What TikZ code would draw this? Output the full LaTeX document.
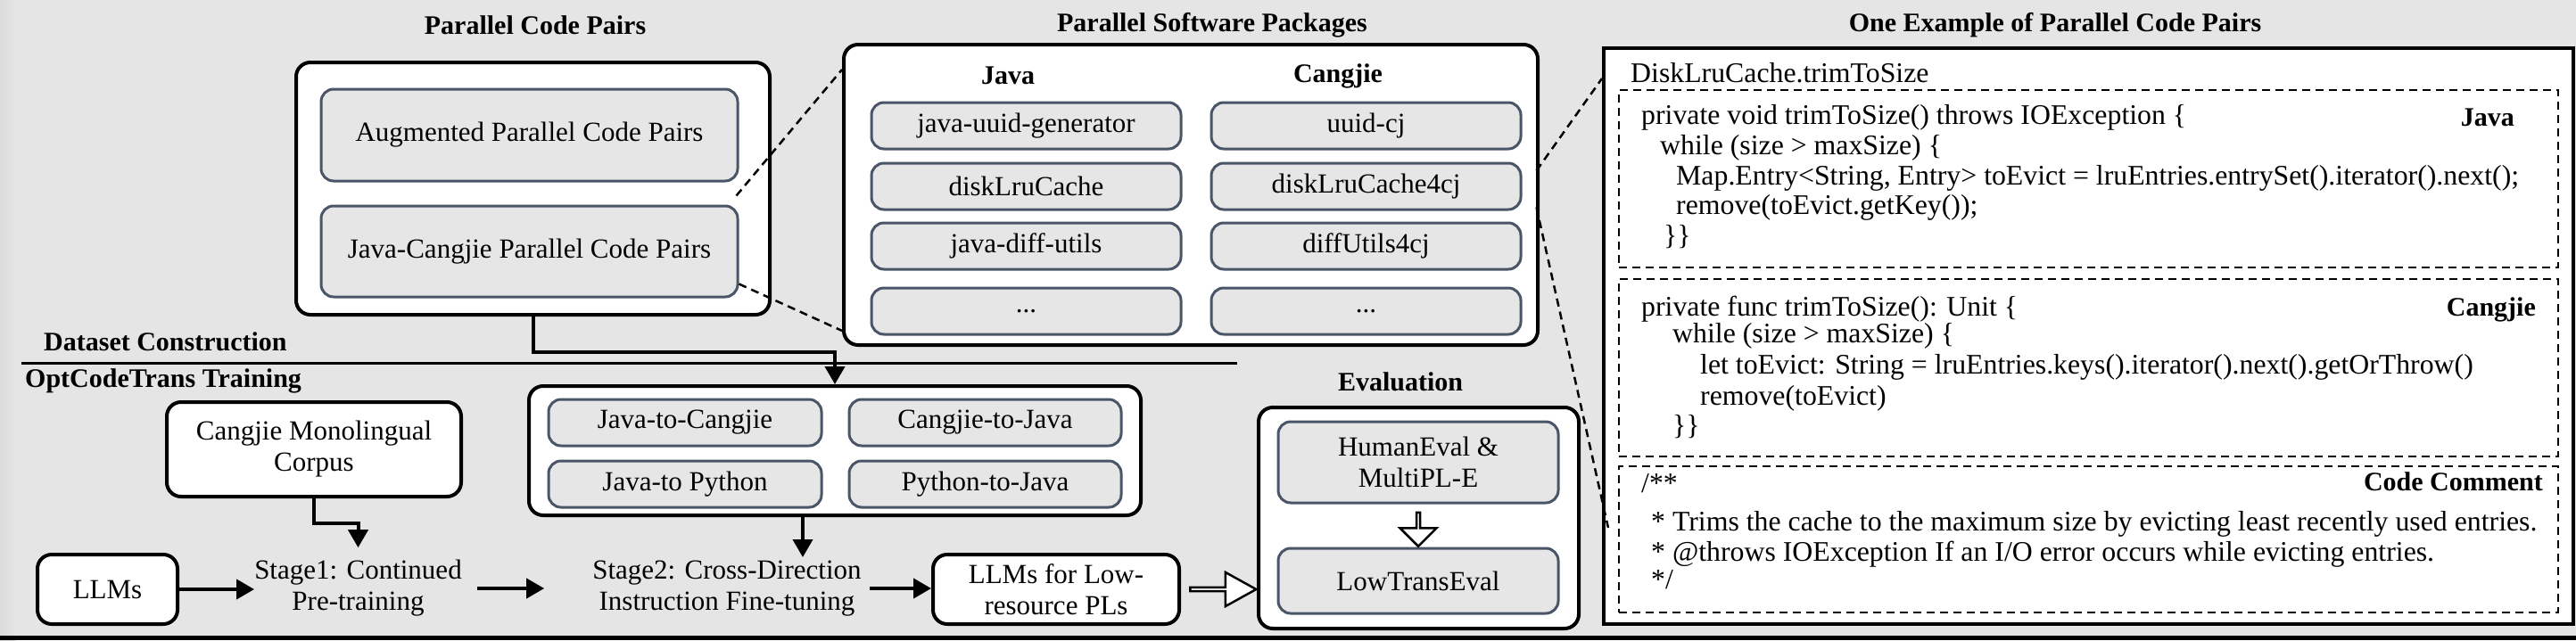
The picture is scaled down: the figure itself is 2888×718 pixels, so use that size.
\documentclass[tikz,border=0pt]{standalone}
\usepackage{fontspec}
\setmainfont{Liberation Serif}
\usepackage{tikz}
\usetikzlibrary{arrows.meta, positioning, shapes.arrows}
\definecolor{canvas}{HTML}{E5E5E5}
\definecolor{slate}{HTML}{4A5568}
\definecolor{cellgray}{HTML}{E6E6E6}
\newcommand{\pcboxfont}{\fontsize{31}{35}\selectfont}
\newcommand{\pcheadfont}{\fontsize{30}{34}\selectfont\bfseries}
\newcommand{\pccodefont}{\fontsize{31.8}{34}\selectfont}

\begin{document}
\begin{tikzpicture}[
    x=1pt, y=-1pt,
    panel/.style={draw=black, line width=4pt, rounded corners=16pt, fill=white, inner sep=0pt},
    itembox/.style={draw=slate, line width=3pt, rounded corners=14pt, fill=cellgray, font=\pcboxfont, align=center, inner sep=0pt},
    plainbox/.style={draw=black, line width=4pt, rounded corners=16pt, fill=white, font=\pcboxfont, align=center, inner sep=0pt},
    headtext/.style={font=\pcheadfont, inner sep=0pt},
    stagetext/.style={font=\pcboxfont, align=center, inner xsep=0pt, inner ysep=14pt},
    flowarrow/.style={-{Triangle[length=20pt, width=22pt]}, line width=4pt},
    zoomline/.style={line width=2.5pt, dash pattern=on 9pt off 6pt},
    codebox/.style={draw=black, line width=2.5pt, dash pattern=on 9pt off 6pt, inner sep=0pt},
    codeline/.style={font=\pccodefont, anchor=west, inner sep=0pt, text height=21pt, text depth=6pt},
    blockarrow/.style={single arrow, draw=black, line width=2.5pt, fill=white, inner sep=0pt},
  ]
  \useasboundingbox (0,0) rectangle (2888,718);
  \fill[canvas] (0,0) rectangle (2888,718);
  \shade[left color=black!14, right color=canvas] (0,0) rectangle (18,718);
  \draw[line width=5pt] (0,715.5) -- (2888,715.5);

  \node[headtext] (pcptitle) at (600,28) {Parallel Code Pairs};
  \node[headtext] (psptitle) at (1359,28) {Parallel Software Packages};
  \node[headtext] (extitle) at (2304,28) {One Example of Parallel Code Pairs};

  \node[panel, minimum width=531pt, minimum height=283pt] (pcp) at (597.5,211.5) {};
  \node[itembox, minimum width=467pt, minimum height=103pt] (aug) at (593.5,151.5) {Augmented Parallel Code Pairs};
  \node[itembox, minimum width=467pt, minimum height=102pt, below=25pt of aug] (jcp) {Java-Cangjie Parallel Code Pairs};

  \node[panel, minimum width=778pt, minimum height=337pt] (psp) at (1335,218.5) {};
  \node[headtext] (javahead) at (1130,85) {Java};
  \node[headtext] (cjhead) at (1500,85) {Cangjie};
  \node[itembox, minimum width=347pt, minimum height=52pt] (jv1) at (1150.5,141) {java-uuid-generator};
  \node[itembox, minimum width=347pt, minimum height=52pt, below=13pt of jv1] (jv2) {diskLruCache};
  \node[itembox, minimum width=347pt, minimum height=52pt, below=12pt of jv2] (jv3) {java-diff-utils};
  \node[itembox, minimum width=347pt, minimum height=52pt, below=18pt of jv3] (jv4) {...};
  \node[itembox, minimum width=347pt, minimum height=52pt, right=31pt of jv1] (cj1) {uuid-cj};
  \node[itembox, minimum width=347pt, minimum height=52pt, right=31pt of jv2] (cj2) {diskLruCache4cj};
  \node[itembox, minimum width=347pt, minimum height=52pt, right=31pt of jv3] (cj3) {diffUtils4cj};
  \node[itembox, minimum width=347pt, minimum height=52pt, right=31pt of jv4] (cj4) {...};

  \node[draw=black, line width=4pt, fill=white, minimum width=1087pt, minimum height=646pt, inner sep=0pt] (ex) at (2341.5,377) {};
  \node[codeline] (exname) at (1828,85) {DiskLruCache.trimToSize};
  \node[codebox, minimum width=1053pt, minimum height=199pt] (javabox) at (2341.5,200.5) {};
  \node[codebox, minimum width=1053pt, minimum height=199pt] (cjbox) at (2341.5,412.5) {};
  \node[codebox, minimum width=1053pt, minimum height=164pt] (cmtbox) at (2341.5,605) {};
  \node[headtext, anchor=east] (javatag) at (2819,132) {Java};
  \node[headtext, anchor=east] (cjtag) at (2843,347) {Cangjie};
  \node[headtext, anchor=east] (cmttag) at (2851,540) {Code Comment};
  \node[codeline] (ja1) at (1840,132) {private void trimToSize() throws IOException \{};
  \node[codeline] (ja2) at (1861,166) {while (size > maxSize) \{};
  \node[codeline] (ja3) at (1879,200) {Map.Entry<String, Entry> toEvict = lruEntries.entrySet().iterator().next();};
  \node[codeline] (ja4) at (1879,233) {remove(toEvict.getKey());};
  \node[codeline] (ja5) at (1865,267) {\}\}};
  \node[codeline] (cg1) at (1840,347) {private func trimToSize(): Unit \{};
  \node[codeline] (cg2) at (1875,377) {while (size > maxSize) \{};
  \node[codeline] (cg3) at (1906,412) {let toEvict: String = lruEntries.keys().iterator().next().getOrThrow()};
  \node[codeline] (cg4) at (1906,447) {remove(toEvict)};
  \node[codeline] (cg5) at (1875,480) {\}\}};
  \node[codeline] (cm1) at (1840,545) {/**};
  \node[codeline] (cm2) at (1851,588) {* Trims the cache to the maximum size by evicting least recently used entries.};
  \node[codeline] (cm3) at (1851,622) {* @throws IOException If an I/O error occurs while evicting entries.};
  \node[codeline] (cm4) at (1851,653) {*/};

  \draw[zoomline] ([xshift=-3pt, yshift=10pt]jcp.north east) -- ([yshift=-30pt]psp.north west);
  \draw[zoomline] ([yshift=16pt]jcp.south east) -- ([yshift=18pt]psp.south west);
  \draw[zoomline] ([xshift=16pt, yshift=-10pt]cj2.north east) -- ([yshift=-36pt]ex.north west);
  \draw[zoomline] ([xshift=16pt, yshift=4pt]cj2.south east) -- ([xshift=7pt, yshift=110pt]ex.south west);

  \draw[line width=3pt] (24,407) -- (1387,407);
  \node[headtext, anchor=west] (dslabel) at (49,383) {Dataset Construction};
  \node[headtext, anchor=west] (trlabel) at (28,427) {OptCodeTrans Training};

  \node[panel, minimum width=686pt, minimum height=145pt] (tr) at (936,505.5) {};
  \node[itembox, minimum width=306pt, minimum height=52pt] (t1) at (768,474) {Java-to-Cangjie};
  \node[itembox, minimum width=305pt, minimum height=52pt, right=28pt of t1] (t2) {Cangjie-to-Java};
  \node[itembox, minimum width=306pt, minimum height=52pt, below=14pt of t1] (t3) {Java-to Python};
  \node[itembox, minimum width=305pt, minimum height=52pt, below=14pt of t2] (t4) {Python-to-Java};

  \node[plainbox, minimum width=330pt, minimum height=106pt] (corpus) at (352,504) {Cangjie Monolingual\\Corpus};
  \node[plainbox, minimum width=157pt, minimum height=78pt] (llm) at (120.5,661) {LLMs};
  \node[stagetext] (st1) at (401.5,660) {Stage1: Continued\\Pre-training};
  \node[stagetext] (st2) at (815,660) {Stage2: Cross-Direction\\Instruction Fine-tuning};
  \node[plainbox, minimum width=276pt, minimum height=78pt] (lowpl) at (1184,661) {LLMs for Low-\\resource PLs};

  \node[headtext] (evaltitle) at (1570,428) {Evaluation};
  \node[panel, minimum width=359pt, minimum height=248pt] (eval) at (1590.5,581) {};
  \node[itembox, minimum width=314pt, minimum height=91pt] (heval) at (1590,518.5) {HumanEval \&\\MultiPL-E};
  \node[itembox, minimum width=314pt, minimum height=73pt] (lteval) at (1590,651.5) {LowTransEval};
  \node[blockarrow, shape border rotate=270, minimum height=38pt, minimum width=41pt, single arrow head extend=11.5pt, below=8pt of heval] (evaldown) {};
  \node[blockarrow, minimum height=74pt, minimum width=38pt, single arrow head extend=10pt, single arrow tip angle=58, right=9pt of lowpl] (toeval) {};

  \draw[flowarrow] (pcp.south) -- ++(0,40) -| (tr.north);
  \draw[flowarrow] (corpus.south) -- ++(0,28) -| (st1.north);
  \draw[flowarrow] (llm.east) -- (llm.east -| st1.west);
  \draw[flowarrow, shorten <=17pt, shorten >=54pt] (st1.east) -- (st1.east -| st2.west);
  \draw[flowarrow] ([xshift=-36pt]tr.south) -- ++(0,45);
  \draw[flowarrow, shorten <=9pt] (st2.east) -- (st2.east -| lowpl.west);
\end{tikzpicture}
\end{document}
